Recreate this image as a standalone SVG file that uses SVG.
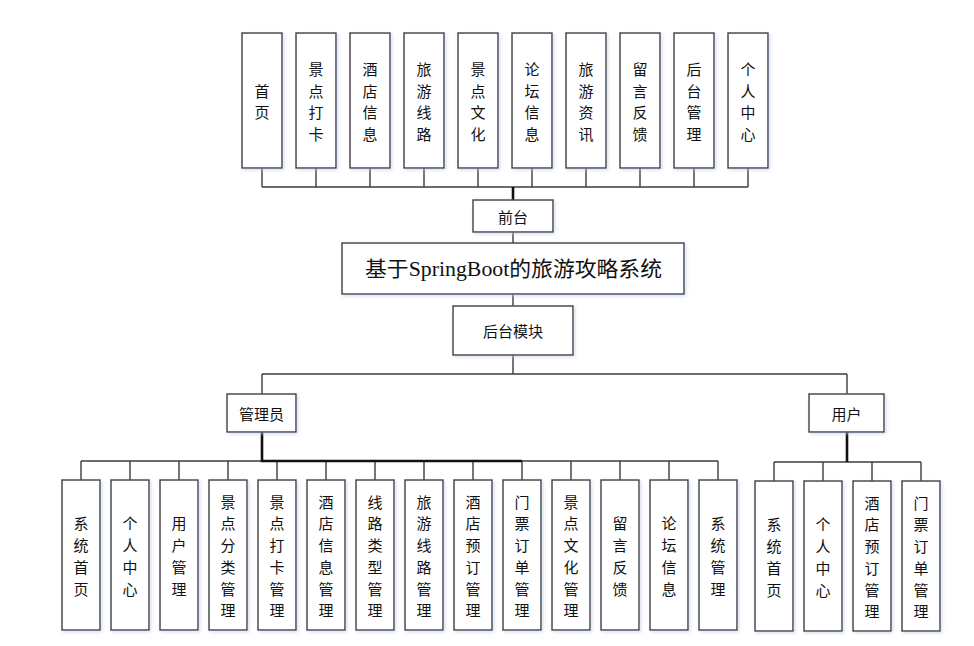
<svg xmlns="http://www.w3.org/2000/svg" width="974" height="646" viewBox="0 0 974 646">
<defs>
<filter id="sh" x="-20%" y="-20%" width="140%" height="140%">
<feDropShadow dx="1.5" dy="1.5" stdDeviation="1.5" flood-color="#b8cbe8" flood-opacity="0.6"/>
</filter>
</defs>
<style>
.b{fill:#fff;stroke:#3c3c3c;stroke-width:1.4;filter:url(#sh)}
.t{font-family:"Noto Sans CJK SC","Liberation Sans",sans-serif;font-size:15px;fill:#111;text-anchor:middle;dominant-baseline:central}
.l{font-family:"Noto Sans CJK SC","Liberation Sans",sans-serif;font-size:15px;fill:#111;text-anchor:middle;dominant-baseline:central}
.c{fill:none;stroke:#3c3c3c;stroke-width:1.4}
.k{fill:none;stroke:#111;stroke-width:2.6}
</style>
<rect width="974" height="646" fill="#fff"/>
<g id="connectors">
<path class="c" d="M262 168V187M316 168V187M370 168V187M424 168V187M478 168V187M532 168V187M586 168V187M640 168V187M694 168V187M748 168V187M262 187H748"/>
<path class="k" d="M513 187V200"/>
<path class="c" d="M513 232V243M513 294V306M513 355V374M262 374H847M262 374V394M847 374V394"/>
<path class="c" d="M81 461H718M81 461V480M130 461V480M179 461V480M228 461V480M277 461V480M326 461V480M375 461V480M424 461V480M473 461V480M522 461V480M571 461V480M620 461V480M669 461V480M718 461V480"/>
<path class="k" d="M262 432V461H522"/>
<path class="c" d="M774 462H921M774 462V481M823 462V481M872 462V481M921 462V481"/>
<path class="k" d="M847 432V462"/>
</g>
<g id="top">
<g id="n1"><rect class="b" x="242" y="33" width="40" height="135"/><text class="t" y="89.65"><tspan x="262">首</tspan><tspan x="262" dy="21.7">页</tspan></text></g>
<g id="n2"><rect class="b" x="296" y="33" width="40" height="135"/><text class="t" y="67.95"><tspan x="316">景</tspan><tspan x="316" dy="21.7">点</tspan><tspan x="316" dy="21.7">打</tspan><tspan x="316" dy="21.7">卡</tspan></text></g>
<g id="n3"><rect class="b" x="350" y="33" width="40" height="135"/><text class="t" y="67.95"><tspan x="370">酒</tspan><tspan x="370" dy="21.7">店</tspan><tspan x="370" dy="21.7">信</tspan><tspan x="370" dy="21.7">息</tspan></text></g>
<g id="n4"><rect class="b" x="404" y="33" width="40" height="135"/><text class="t" y="67.95"><tspan x="424">旅</tspan><tspan x="424" dy="21.7">游</tspan><tspan x="424" dy="21.7">线</tspan><tspan x="424" dy="21.7">路</tspan></text></g>
<g id="n5"><rect class="b" x="458" y="33" width="40" height="135"/><text class="t" y="67.95"><tspan x="478">景</tspan><tspan x="478" dy="21.7">点</tspan><tspan x="478" dy="21.7">文</tspan><tspan x="478" dy="21.7">化</tspan></text></g>
<g id="n6"><rect class="b" x="512" y="33" width="40" height="135"/><text class="t" y="67.95"><tspan x="532">论</tspan><tspan x="532" dy="21.7">坛</tspan><tspan x="532" dy="21.7">信</tspan><tspan x="532" dy="21.7">息</tspan></text></g>
<g id="n7"><rect class="b" x="566" y="33" width="40" height="135"/><text class="t" y="67.95"><tspan x="586">旅</tspan><tspan x="586" dy="21.7">游</tspan><tspan x="586" dy="21.7">资</tspan><tspan x="586" dy="21.7">讯</tspan></text></g>
<g id="n8"><rect class="b" x="620" y="33" width="40" height="135"/><text class="t" y="67.95"><tspan x="640">留</tspan><tspan x="640" dy="21.7">言</tspan><tspan x="640" dy="21.7">反</tspan><tspan x="640" dy="21.7">馈</tspan></text></g>
<g id="n9"><rect class="b" x="674" y="33" width="40" height="135"/><text class="t" y="67.95"><tspan x="694">后</tspan><tspan x="694" dy="21.7">台</tspan><tspan x="694" dy="21.7">管</tspan><tspan x="694" dy="21.7">理</tspan></text></g>
<g id="n10"><rect class="b" x="728" y="33" width="40" height="135"/><text class="t" y="67.95"><tspan x="748">个</tspan><tspan x="748" dy="21.7">人</tspan><tspan x="748" dy="21.7">中</tspan><tspan x="748" dy="21.7">心</tspan></text></g>
</g>
<g id="qiantai"><rect class="b" x="473" y="200" width="80" height="32"/><text class="l" x="513" y="216">前台</text></g>
<g id="system"><rect class="b" x="342" y="243" width="342" height="51"/><text x="365" y="269" textLength="297" lengthAdjust="spacingAndGlyphs" style="font-family:'Liberation Serif','Noto Sans CJK SC',serif;font-size:21px;fill:#111;dominant-baseline:central">基于SpringBoot的旅游攻略系统</text></g>
<g id="houtai"><rect class="b" x="453" y="306" width="120" height="49"/><text class="l" x="513" y="330.5">后台模块</text></g>
<g id="admin"><rect class="b" x="227" y="394" width="69" height="38"/><text class="l" x="261.5" y="413">管理员</text></g>
<g id="user"><rect class="b" x="809" y="394" width="75" height="38"/><text class="l" x="846.5" y="413">用户</text></g>
<g id="adminfunc">
<g id="a1"><rect class="b" x="62" y="480" width="38" height="150"/><text class="t" y="522.45"><tspan x="81">系</tspan><tspan x="81" dy="21.7">统</tspan><tspan x="81" dy="21.7">首</tspan><tspan x="81" dy="21.7">页</tspan></text></g>
<g id="a2"><rect class="b" x="111" y="480" width="38" height="150"/><text class="t" y="522.45"><tspan x="130">个</tspan><tspan x="130" dy="21.7">人</tspan><tspan x="130" dy="21.7">中</tspan><tspan x="130" dy="21.7">心</tspan></text></g>
<g id="a3"><rect class="b" x="160" y="480" width="38" height="150"/><text class="t" y="522.45"><tspan x="179">用</tspan><tspan x="179" dy="21.7">户</tspan><tspan x="179" dy="21.7">管</tspan><tspan x="179" dy="21.7">理</tspan></text></g>
<g id="a4"><rect class="b" x="209" y="480" width="38" height="150"/><text class="t" y="500.75"><tspan x="228">景</tspan><tspan x="228" dy="21.7">点</tspan><tspan x="228" dy="21.7">分</tspan><tspan x="228" dy="21.7">类</tspan><tspan x="228" dy="21.7">管</tspan><tspan x="228" dy="21.7">理</tspan></text></g>
<g id="a5"><rect class="b" x="258" y="480" width="38" height="150"/><text class="t" y="500.75"><tspan x="277">景</tspan><tspan x="277" dy="21.7">点</tspan><tspan x="277" dy="21.7">打</tspan><tspan x="277" dy="21.7">卡</tspan><tspan x="277" dy="21.7">管</tspan><tspan x="277" dy="21.7">理</tspan></text></g>
<g id="a6"><rect class="b" x="307" y="480" width="38" height="150"/><text class="t" y="500.75"><tspan x="326">酒</tspan><tspan x="326" dy="21.7">店</tspan><tspan x="326" dy="21.7">信</tspan><tspan x="326" dy="21.7">息</tspan><tspan x="326" dy="21.7">管</tspan><tspan x="326" dy="21.7">理</tspan></text></g>
<g id="a7"><rect class="b" x="356" y="480" width="38" height="150"/><text class="t" y="500.75"><tspan x="375">线</tspan><tspan x="375" dy="21.7">路</tspan><tspan x="375" dy="21.7">类</tspan><tspan x="375" dy="21.7">型</tspan><tspan x="375" dy="21.7">管</tspan><tspan x="375" dy="21.7">理</tspan></text></g>
<g id="a8"><rect class="b" x="405" y="480" width="38" height="150"/><text class="t" y="500.75"><tspan x="424">旅</tspan><tspan x="424" dy="21.7">游</tspan><tspan x="424" dy="21.7">线</tspan><tspan x="424" dy="21.7">路</tspan><tspan x="424" dy="21.7">管</tspan><tspan x="424" dy="21.7">理</tspan></text></g>
<g id="a9"><rect class="b" x="454" y="480" width="38" height="150"/><text class="t" y="500.75"><tspan x="473">酒</tspan><tspan x="473" dy="21.7">店</tspan><tspan x="473" dy="21.7">预</tspan><tspan x="473" dy="21.7">订</tspan><tspan x="473" dy="21.7">管</tspan><tspan x="473" dy="21.7">理</tspan></text></g>
<g id="a10"><rect class="b" x="503" y="480" width="38" height="150"/><text class="t" y="500.75"><tspan x="522">门</tspan><tspan x="522" dy="21.7">票</tspan><tspan x="522" dy="21.7">订</tspan><tspan x="522" dy="21.7">单</tspan><tspan x="522" dy="21.7">管</tspan><tspan x="522" dy="21.7">理</tspan></text></g>
<g id="a11"><rect class="b" x="552" y="480" width="38" height="150"/><text class="t" y="500.75"><tspan x="571">景</tspan><tspan x="571" dy="21.7">点</tspan><tspan x="571" dy="21.7">文</tspan><tspan x="571" dy="21.7">化</tspan><tspan x="571" dy="21.7">管</tspan><tspan x="571" dy="21.7">理</tspan></text></g>
<g id="a12"><rect class="b" x="601" y="480" width="38" height="150"/><text class="t" y="522.45"><tspan x="620">留</tspan><tspan x="620" dy="21.7">言</tspan><tspan x="620" dy="21.7">反</tspan><tspan x="620" dy="21.7">馈</tspan></text></g>
<g id="a13"><rect class="b" x="650" y="480" width="38" height="150"/><text class="t" y="522.45"><tspan x="669">论</tspan><tspan x="669" dy="21.7">坛</tspan><tspan x="669" dy="21.7">信</tspan><tspan x="669" dy="21.7">息</tspan></text></g>
<g id="a14"><rect class="b" x="699" y="480" width="38" height="150"/><text class="t" y="522.45"><tspan x="718">系</tspan><tspan x="718" dy="21.7">统</tspan><tspan x="718" dy="21.7">管</tspan><tspan x="718" dy="21.7">理</tspan></text></g>
</g>
<g id="userfunc">
<g id="u1"><rect class="b" x="755" y="481" width="38" height="150"/><text class="t" y="523.45"><tspan x="774">系</tspan><tspan x="774" dy="21.7">统</tspan><tspan x="774" dy="21.7">首</tspan><tspan x="774" dy="21.7">页</tspan></text></g>
<g id="u2"><rect class="b" x="804" y="481" width="38" height="150"/><text class="t" y="523.45"><tspan x="823">个</tspan><tspan x="823" dy="21.7">人</tspan><tspan x="823" dy="21.7">中</tspan><tspan x="823" dy="21.7">心</tspan></text></g>
<g id="u3"><rect class="b" x="853" y="481" width="38" height="150"/><text class="t" y="501.75"><tspan x="872">酒</tspan><tspan x="872" dy="21.7">店</tspan><tspan x="872" dy="21.7">预</tspan><tspan x="872" dy="21.7">订</tspan><tspan x="872" dy="21.7">管</tspan><tspan x="872" dy="21.7">理</tspan></text></g>
<g id="u4"><rect class="b" x="902" y="481" width="38" height="150"/><text class="t" y="501.75"><tspan x="921">门</tspan><tspan x="921" dy="21.7">票</tspan><tspan x="921" dy="21.7">订</tspan><tspan x="921" dy="21.7">单</tspan><tspan x="921" dy="21.7">管</tspan><tspan x="921" dy="21.7">理</tspan></text></g>
</g>
</svg>
